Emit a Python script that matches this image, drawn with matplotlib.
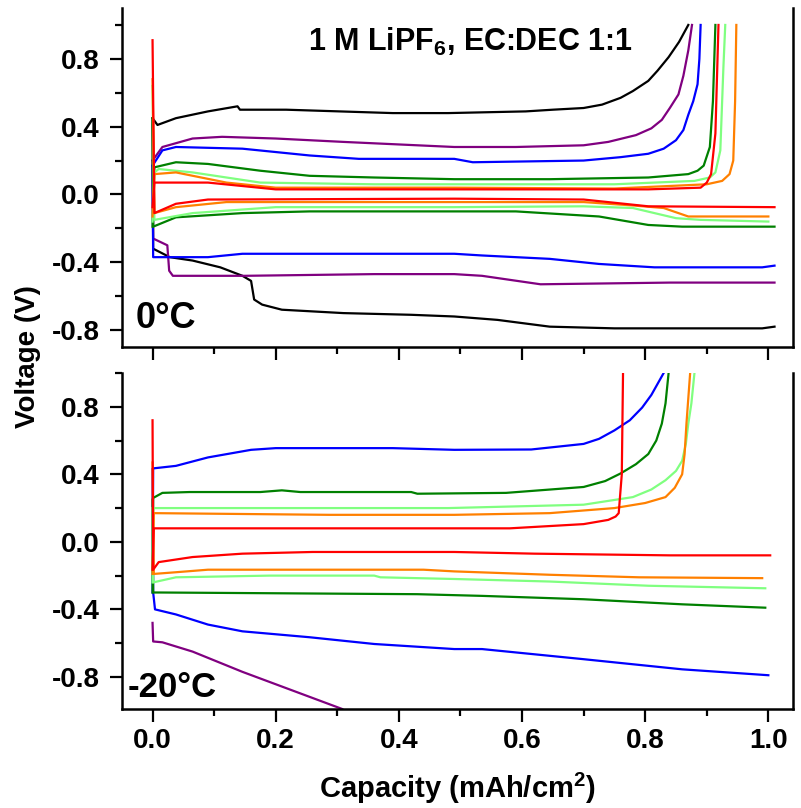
"""
Voltage profiles at 0 C and -20 C, 1 M LiPF6 in EC:DEC
"""
import matplotlib
matplotlib.use("Agg")
import matplotlib.pyplot as plt
from matplotlib.ticker import MultipleLocator

plt.rcParams['font.family'] = ['Liberation Sans', 'DejaVu Sans']
plt.rcParams['font.weight'] = 'bold'
plt.rcParams['mathtext.fontset'] = 'custom'
plt.rcParams['mathtext.rm'] = 'Liberation Sans:bold'
plt.rcParams['mathtext.default'] = 'rm'

# ---- 0 C panel ----
# charge (upper) curves
c0_black_x = [0, 0.008, 0.038, 0.09, 0.138, 0.142, 0.217, 0.39, 0.48, 0.606, 0.65, 0.70, 0.73, 0.76, 0.78, 0.805, 0.82, 0.838, 0.855, 0.87]
c0_black_y = [0.45, 0.41, 0.45, 0.49, 0.52, 0.50, 0.50, 0.48, 0.48, 0.49, 0.50, 0.51, 0.53, 0.57, 0.61, 0.67, 0.73, 0.81, 0.90, 1.0]
c0_purple_x = [0, 0.016, 0.065, 0.113, 0.20, 0.31, 0.49, 0.59, 0.70, 0.74, 0.785, 0.81, 0.827, 0.84, 0.854, 0.862, 0.87, 0.876]
c0_purple_y = [0.20, 0.28, 0.33, 0.34, 0.33, 0.31, 0.28, 0.28, 0.29, 0.31, 0.35, 0.39, 0.44, 0.51, 0.59, 0.70, 0.85, 1.0]
c0_blue_x = [0, 0.016, 0.038, 0.146, 0.255, 0.335, 0.49, 0.52, 0.70, 0.76, 0.805, 0.83, 0.85, 0.862, 0.87, 0.878, 0.885, 0.888, 0.89]
c0_blue_y = [0.17, 0.26, 0.28, 0.27, 0.23, 0.21, 0.21, 0.19, 0.20, 0.22, 0.24, 0.27, 0.32, 0.38, 0.47, 0.55, 0.65, 0.80, 1.0]
c0_dgreen_x = [0, 0.003, 0.038, 0.09, 0.175, 0.255, 0.36, 0.49, 0.645, 0.805, 0.87, 0.885, 0.895, 0.905, 0.91, 0.914]
c0_dgreen_y = [-0.19, 0.16, 0.19, 0.18, 0.14, 0.11, 0.10, 0.09, 0.09, 0.10, 0.12, 0.14, 0.17, 0.28, 0.55, 1.0]
c0_lgreen_x = [0, 0.003, 0.01, 0.065, 0.175, 0.36, 0.75, 0.88, 0.905, 0.914, 0.922, 0.927, 0.93]
c0_lgreen_y = [-0.16, 0.13, 0.15, 0.13, 0.07, 0.06, 0.06, 0.08, 0.10, 0.13, 0.26, 0.75, 1.0]
c0_orange_x = [0, 0.003, 0.038, 0.12, 0.20, 0.49, 0.75, 0.90, 0.925, 0.937, 0.943, 0.946, 0.948]
c0_orange_y = [-0.13, 0.12, 0.13, 0.07, 0.04, 0.04, 0.035, 0.06, 0.08, 0.12, 0.20, 0.55, 1.0]
c0_red_x = [0, 0.003, 0.09, 0.20, 0.49, 0.805, 0.89, 0.90, 0.907, 0.914, 0.919]
c0_red_y = [-0.075, 0.07, 0.07, 0.03, 0.03, 0.03, 0.04, 0.07, 0.12, 0.36, 1.0]

# discharge (lower) curves
d0_black_x = [0, 0.001, 0.028, 0.065, 0.11, 0.146, 0.16, 0.165, 0.178, 0.21, 0.31, 0.42, 0.49, 0.56, 0.645, 0.75, 0.99, 1.01]
d0_black_y = [0.45, -0.32, -0.37, -0.39, -0.43, -0.48, -0.51, -0.62, -0.65, -0.68, -0.70, -0.71, -0.72, -0.74, -0.78, -0.79, -0.79, -0.78]
d0_purple_x = [0, 0.001, 0.024, 0.027, 0.033, 0.15, 0.36, 0.49, 0.535, 0.63, 0.84, 1.01]
d0_purple_y = [0.20, -0.26, -0.30, -0.45, -0.48, -0.48, -0.47, -0.47, -0.48, -0.53, -0.52, -0.52]
d0_blue_x = [0, 0.001, 0.09, 0.146, 0.36, 0.49, 0.535, 0.645, 0.725, 0.815, 0.99, 1.01]
d0_blue_y = [0.17, -0.37, -0.37, -0.35, -0.35, -0.35, -0.36, -0.38, -0.41, -0.43, -0.43, -0.42]
d0_dgreen_x = [0, 0.001, 0.038, 0.146, 0.255, 0.49, 0.59, 0.725, 0.805, 0.86, 1.01]
d0_dgreen_y = [0.45, -0.19, -0.135, -0.11, -0.10, -0.10, -0.10, -0.13, -0.18, -0.19, -0.19]
d0_lgreen_x = [0, 0.003, 0.065, 0.20, 0.49, 0.70, 0.78, 0.85, 0.89, 1.0]
d0_lgreen_y = [0.64, -0.15, -0.11, -0.075, -0.075, -0.07, -0.08, -0.14, -0.15, -0.16]
d0_orange_x = [0, 0.003, 0.038, 0.12, 0.49, 0.70, 0.78, 0.83, 0.87, 0.97, 1.0]
d0_orange_y = [0.68, -0.11, -0.075, -0.045, -0.045, -0.045, -0.065, -0.08, -0.13, -0.13, -0.13]
d0_red_x = [0, 0.003, 0.038, 0.09, 0.49, 0.70, 0.805, 1.01]
d0_red_y = [0.91, -0.11, -0.055, -0.03, -0.025, -0.03, -0.07, -0.075]

# ---- -20 C panel ----
c20_blue_x = [0, 0.001, 0.038, 0.09, 0.16, 0.20, 0.39, 0.49, 0.615, 0.70, 0.725, 0.75, 0.775, 0.795, 0.81, 0.83]
c20_blue_y = [-0.30, 0.435, 0.45, 0.50, 0.545, 0.555, 0.555, 0.545, 0.547, 0.58, 0.61, 0.66, 0.72, 0.795, 0.87, 1.0]
c20_dgreen_x = [0, 0.001, 0.016, 0.06, 0.175, 0.21, 0.24, 0.42, 0.43, 0.574, 0.70, 0.735, 0.76, 0.785, 0.805, 0.818, 0.827, 0.833, 0.838]
c20_dgreen_y = [-0.30, 0.26, 0.29, 0.295, 0.295, 0.305, 0.295, 0.295, 0.285, 0.29, 0.325, 0.36, 0.405, 0.46, 0.52, 0.60, 0.70, 0.82, 1.0]
c20_lgreen_x = [0, 0.001, 0.48, 0.70, 0.78, 0.81, 0.833, 0.85, 0.86, 0.866, 0.87, 0.875, 0.88]
c20_lgreen_y = [-0.24, 0.20, 0.20, 0.22, 0.265, 0.31, 0.365, 0.42, 0.48, 0.58, 0.70, 0.82, 1.0]
c20_orange_x = [0, 0.002, 0.287, 0.49, 0.645, 0.75, 0.80, 0.833, 0.848, 0.86, 0.864, 0.867, 0.87, 0.873]
c20_orange_y = [-0.19, 0.17, 0.16, 0.16, 0.17, 0.20, 0.23, 0.265, 0.32, 0.40, 0.52, 0.70, 0.85, 1.0]
c20_red_x = [0, 0.002, 0.58, 0.70, 0.74, 0.752, 0.757, 0.762, 0.764]
c20_red_y = [-0.165, 0.08, 0.08, 0.105, 0.13, 0.15, 0.17, 0.40, 1.0]

d20_blue_x = [0, 0.001, 0.004, 0.038, 0.09, 0.146, 0.255, 0.36, 0.49, 0.535, 0.70, 0.86, 1.0]
d20_blue_y = [0.43, -0.30, -0.40, -0.43, -0.49, -0.53, -0.565, -0.605, -0.635, -0.635, -0.695, -0.755, -0.79]
d20_purple_x = [0, 0.001, 0.016, 0.065, 0.146, 0.227, 0.308]
d20_purple_y = [-0.48, -0.59, -0.595, -0.65, -0.77, -0.88, -0.99]
d20_dgreen_x = [0, 0.001, 0.01, 0.43, 0.535, 0.70, 0.86, 0.995]
d20_dgreen_y = [0.25, -0.30, -0.30, -0.31, -0.32, -0.34, -0.37, -0.39]
d20_lgreen_x = [0, 0.001, 0.038, 0.19, 0.36, 0.37, 0.49, 0.645, 0.805, 0.995]
d20_lgreen_y = [0.20, -0.24, -0.21, -0.20, -0.20, -0.21, -0.22, -0.235, -0.26, -0.275]
d20_orange_x = [0, 0.002, 0.038, 0.09, 0.44, 0.49, 0.645, 0.79, 0.99]
d20_orange_y = [0.47, -0.19, -0.18, -0.165, -0.165, -0.175, -0.195, -0.21, -0.215]
d20_red_x = [0, 0.001, 0.01, 0.065, 0.146, 0.26, 0.49, 0.62, 0.84, 1.003]
d20_red_y = [0.72, -0.165, -0.12, -0.09, -0.07, -0.06, -0.06, -0.07, -0.08, -0.08]

colors = {"black": "#000000", "purple": "#800080", "blue": "#0000ff", "dgreen": "#008000",
          "lgreen": "#80ff80", "orange": "#ff8000", "red": "#ff0000"}


def style_axes(ax, ylim, show_xlabels):
	ax.set_xlim(-0.05, 1.04)
	ax.set_ylim(*ylim)
	ax.spines['top'].set_visible(False)
	for s in ['left', 'right', 'bottom']:
		ax.spines[s].set_linewidth(1.8)
	ax.xaxis.set_major_locator(MultipleLocator(0.2))
	ax.xaxis.set_minor_locator(MultipleLocator(0.1))
	ax.yaxis.set_major_locator(MultipleLocator(0.4))
	ax.yaxis.set_minor_locator(MultipleLocator(0.2))
	ax.tick_params(which='major', direction='out', length=9, width=1.6, labelsize=20, pad=5)
	ax.tick_params(which='minor', direction='out', length=5, width=1.6)
	ax.tick_params(axis='y', which='major', pad=7)
	ax.tick_params(right=False, top=False, which='both')
	ax.xaxis.set_major_formatter(plt.FuncFormatter(lambda v, p: "%.1f" % v))
	ax.yaxis.set_major_formatter(plt.FuncFormatter(lambda v, p: "%.1f" % v))
	if not show_xlabels:
		ax.tick_params(axis='x', labelbottom=False)


def main():
	fig = plt.figure(figsize=(8.01, 8.08), dpi=100)
	ax_top = fig.add_axes([0.152, 1 - 347 / 808, 0.838, 339 / 808])
	ax_bot = fig.add_axes([0.152, 1 - 709 / 808, 0.838, 336 / 808])

	top_curves = [
		(c0_black_x, c0_black_y, "black"), (d0_black_x, d0_black_y, "black"),
		(c0_purple_x, c0_purple_y, "purple"), (d0_purple_x, d0_purple_y, "purple"),
		(c0_blue_x, c0_blue_y, "blue"), (d0_blue_x, d0_blue_y, "blue"),
		(c0_dgreen_x, c0_dgreen_y, "dgreen"), (d0_dgreen_x, d0_dgreen_y, "dgreen"),
		(c0_lgreen_x, c0_lgreen_y, "lgreen"), (d0_lgreen_x, d0_lgreen_y, "lgreen"),
		(c0_orange_x, c0_orange_y, "orange"), (d0_orange_x, d0_orange_y, "orange"),
		(c0_red_x, c0_red_y, "red"), (d0_red_x, d0_red_y, "red"),
	]
	bot_curves = [
		(d20_purple_x, d20_purple_y, "purple"),
		(c20_blue_x, c20_blue_y, "blue"), (d20_blue_x, d20_blue_y, "blue"),
		(c20_dgreen_x, c20_dgreen_y, "dgreen"), (d20_dgreen_x, d20_dgreen_y, "dgreen"),
		(c20_lgreen_x, c20_lgreen_y, "lgreen"), (d20_lgreen_x, d20_lgreen_y, "lgreen"),
		(c20_orange_x, c20_orange_y, "orange"), (d20_orange_x, d20_orange_y, "orange"),
		(c20_red_x, c20_red_y, "red"), (d20_red_x, d20_red_y, "red"),
	]
	for x, y, c in top_curves:
		ax_top.plot(x, y, color=colors[c], lw=1.6)
	for x, y, c in bot_curves:
		ax_bot.plot(x, y, color=colors[c], lw=1.6)

	style_axes(ax_top, (-0.9, 1.1), False)
	style_axes(ax_bot, (-0.99, 1.0), True)

	ax_top.text(0.52, 0.90, "1 M LiPF$_6$, EC:DEC 1:1", transform=ax_top.transAxes,
		ha='center', va='center', fontsize=22, fontweight='bold')
	ax_top.text(0.02, 0.056, "0°C", transform=ax_top.transAxes,
		ha='left', va='baseline', fontsize=26, fontweight='bold')
	ax_bot.text(0.009, 0.036, "-20°C", transform=ax_bot.transAxes,
		ha='left', va='baseline', fontsize=25, fontweight='bold')

	fig.text(0.035, 1 - 357 / 808, "Voltage (V)", rotation=90, ha='center', va='center',
		fontsize=20, fontweight='bold')
	fig.text(457 / 801, 1 - 788 / 808, "Capacity (mAh/cm$^2$)", ha='center', va='center',
		fontsize=21, fontweight='bold')

	fig.savefig("out.png", dpi=100)


main()
